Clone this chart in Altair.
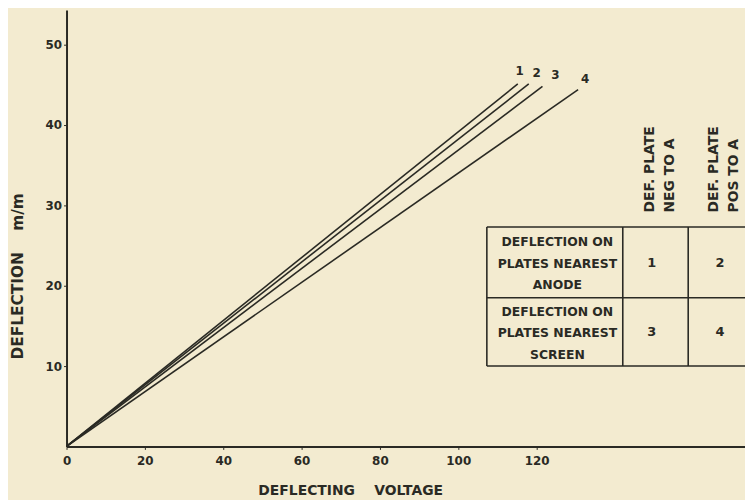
import altair as alt
import pandas as pd

# ---- data ----
curve_ids = ["1", "2", "3", "4"]
end_voltage = [115.2, 118.0, 121.5, 130.6]
end_deflection = [45.1, 45.1, 44.8, 44.4]

label_x = [115.7, 120.0, 124.8, 132.4]
label_y = [46.7, 46.4, 46.2, 45.7]

x_ticks = [0, 20, 40, 60, 80, 100, 120]
y_ticks = [10, 20, 30, 40, 50]

# legend table (in data units)
table_h_y = [27.3, 18.5, 10.0]
table_h_x = [107.3, 176.0]
table_v_x = [107.3, 142.0, 158.7]
table_v_y = [10.0, 27.3]
row_text = ["DEFLECTION ON\nPLATES NEAREST\nANODE", "DEFLECTION ON\nPLATES NEAREST\nSCREEN"]
row_text_x = [125.3, 125.3]
row_text_y = [25.4, 16.7]
cell_text = ["1", "2", "3", "4"]
cell_x = [149.4, 166.8, 149.4, 166.8]
cell_y = [22.8, 22.8, 14.2, 14.2]
head_text = ["DEF. PLATE\nNEG TO A", "DEF. PLATE\nPOS TO A"]
head_x = [148.9, 165.4]
head_y = [29.1, 29.1]

X_MAX = 173.2
Y_MAX = 54.3
INK = "#2a2a24"
BG = "#f3ebd0"
FONT = "DejaVu Sans"
SP = "\u00a0"

rows = []
for cid, xv, yv in zip(curve_ids, end_voltage, end_deflection):
    rows.append({"curve": cid, "v": 0.0, "d": 0.0})
    rows.append({"curve": cid, "v": xv, "d": yv})
lines_df = pd.DataFrame(rows)

xs = alt.Scale(domain=[0, X_MAX], nice=False, zero=False)
ys = alt.Scale(domain=[0, Y_MAX], nice=False, zero=False)

x_axis = alt.Axis(values=x_ticks, title="DEFLECTING" + SP * 4 + "VOLTAGE", grid=False,
                  domainColor=INK, domainWidth=2, tickColor=INK, tickSize=3,
                  labelFont=FONT, labelFontWeight="bold", labelFontSize=12, labelColor=INK,
                  labelPadding=6, titleFont=FONT, titleFontWeight="bold", titleFontSize=14,
                  titleColor=INK, titleX=286, titleY=44, titleAlign="center",
                  titleBaseline="middle", labelFlush=False)
y_axis = alt.Axis(values=y_ticks, title="DEFLECTION" + SP * 4 + "m/m", grid=False,
                  domainColor=INK, domainWidth=2, tickColor=INK, tickSize=3,
                  labelFont=FONT, labelFontWeight="bold", labelFontSize=12, labelColor=INK,
                  labelPadding=2, titleFont=FONT, titleFontWeight="bold", titleFontSize=15.5,
                  titleColor=INK, titleX=-49, titleY=268, titleAngle=270,
                  titleAlign="center", titleBaseline="middle")

base_lines = alt.Chart(lines_df).mark_line(color=INK, strokeWidth=1.6, clip=True).encode(
    x=alt.X("v:Q", scale=xs, axis=x_axis),
    y=alt.Y("d:Q", scale=ys, axis=y_axis),
    detail="curve:N",
)

labels = alt.Chart(pd.DataFrame({"t": curve_ids, "x": label_x, "y": label_y})).mark_text(
    font=FONT, fontWeight="bold", fontSize=12, color=INK, baseline="middle", align="center"
).encode(x=alt.X("x:Q", scale=xs), y=alt.Y("y:Q", scale=ys), text="t:N")

hrules = alt.Chart(pd.DataFrame({"y": table_h_y, "x": [table_h_x[0]] * 3, "x2": [table_h_x[1]] * 3})).mark_rule(
    color=INK, strokeWidth=1.6, clip=True
).encode(x=alt.X("x:Q", scale=xs), x2="x2:Q", y=alt.Y("y:Q", scale=ys))

vrules = alt.Chart(pd.DataFrame({"x": table_v_x, "y": [table_v_y[0]] * 3, "y2": [table_v_y[1]] * 3})).mark_rule(
    color=INK, strokeWidth=1.6, clip=True
).encode(x=alt.X("x:Q", scale=xs), y=alt.Y("y:Q", scale=ys), y2="y2:Q")

rowtxt = alt.Chart(pd.DataFrame({"t": row_text, "x": row_text_x, "y": row_text_y})).mark_text(
    font=FONT, fontWeight="bold", fontSize=12.5, color=INK, lineBreak="\n", lineHeight=21.5,
    align="center", baseline="middle"
).encode(x=alt.X("x:Q", scale=xs), y=alt.Y("y:Q", scale=ys), text="t:N")

celltxt = alt.Chart(pd.DataFrame({"t": cell_text, "x": cell_x, "y": cell_y})).mark_text(
    font=FONT, fontWeight="bold", fontSize=13, color=INK, align="center", baseline="middle"
).encode(x=alt.X("x:Q", scale=xs), y=alt.Y("y:Q", scale=ys), text="t:N")

headtxt = alt.Chart(pd.DataFrame({"t": head_text, "x": head_x, "y": head_y})).mark_text(
    font=FONT, fontWeight="bold", fontSize=14, color=INK, lineBreak="\n", lineHeight=20,
    angle=270, align="left", baseline="middle"
).encode(x=alt.X("x:Q", scale=xs), y=alt.Y("y:Q", scale=ys), text="t:N")

chart = alt.layer(base_lines, labels, hrules, vrules, rowtxt, celltxt, headtxt).properties(
    width=684, height=440,
    autosize=alt.AutoSizeParams(type="none"),
    padding={"left": 59, "top": 0, "right": 0, "bottom": 52},
).configure(background=BG).configure_view(stroke=None)

chart.save("out.html", embed_options={"renderer": "svg", "actions": False})
